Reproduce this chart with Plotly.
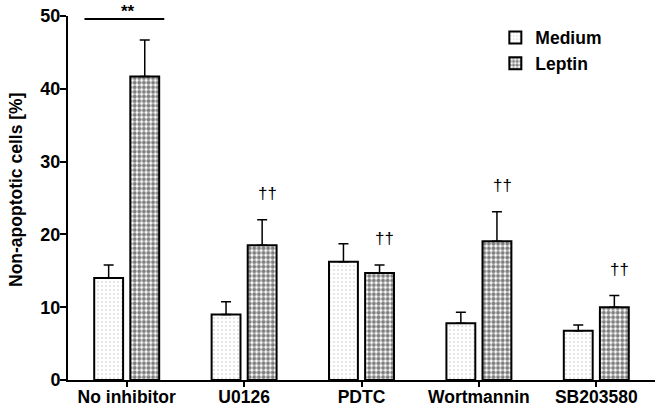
import plotly.graph_objects as go

categories = ["No inhibitor", "U0126", "PDTC", "Wortmannin", "SB203580"]
medium = [14.0, 9.0, 16.25, 7.8, 6.75]
medium_err = [1.8, 1.75, 2.45, 1.5, 0.8]
leptin = [41.7, 18.5, 14.7, 19.05, 10.0]
leptin_err = [5.0, 3.5, 1.1, 4.05, 1.6]
dagger_flags = [False, True, True, True, True]
y_ticks = [0, 10, 20, 30, 40, 50]
y_title = "Non-apoptotic cells [%]"

FONT = "Liberation Sans, Arial, sans-serif"
idx = list(range(len(categories)))

fig = go.Figure()
fig.add_trace(go.Bar(
    name="Medium", x=idx, y=medium,
    marker=dict(color="white", line=dict(color="black", width=2),
                pattern=dict(shape=".", fgcolor="#808080", bgcolor="white", size=4, solidity=0.12)),
    error_y=dict(type="data", array=medium_err, arrayminus=[0]*5, symmetric=False,
                 color="black", thickness=1.5, width=5),
))
fig.add_trace(go.Bar(
    name="Leptin", x=idx, y=leptin,
    marker=dict(color="white", line=dict(color="black", width=2),
                pattern=dict(shape=".", fgcolor="black", bgcolor="white", size=4.6, solidity=0.6)),
    error_y=dict(type="data", array=leptin_err, arrayminus=[0]*5, symmetric=False,
                 color="black", thickness=1.5, width=5),
))

# significance bracket over the first group
fig.add_shape(type="line", xref="x", yref="y", x0=idx[0] - 0.36, x1=idx[0] + 0.32,
              y0=49.6, y1=49.6, line=dict(color="black", width=2))
fig.add_annotation(x=idx[0] + 0.01, y=49.6, text="**", showarrow=False, yanchor="bottom",
                   font=dict(family=FONT, size=17, color="black", weight="bold"), yshift=-4)

for i, flag in enumerate(dagger_flags):
    if flag:
        fig.add_annotation(x=i + 0.2, y=leptin[i] + leptin_err[i], text="††", showarrow=False,
                           yanchor="bottom", yshift=15,
                           font=dict(family=FONT, size=17, color="black"))

# y-axis title as rotated text
fig.add_annotation(xref="paper", yref="paper", x=0, y=0.522, xanchor="center", yanchor="middle",
                   xshift=-52, textangle=-90, text=y_title, showarrow=False,
                   font=dict(family=FONT, size=17.5, color="black", weight="bold"))

fig.update_layout(
    width=662, height=409,
    margin=dict(l=68, r=7, t=16, b=29, autoexpand=False),
    paper_bgcolor="white", plot_bgcolor="white",
    barmode="group", bargap=0.385, bargroupgap=0.2,
    font=dict(family=FONT, color="black"),
    legend=dict(x=0.728, y=0.99, xanchor="left", yanchor="top",
                font=dict(family=FONT, size=17.5, color="black", weight="bold"),
                bgcolor="rgba(0,0,0,0)", itemwidth=30, tracegroupgap=0),
    showlegend=True,
)
fig.update_xaxes(
    range=[-0.5, 4.5], tickvals=idx, ticktext=categories, automargin=False,
    showline=True, linecolor="black", linewidth=2,
    ticks="outside", ticklen=5, tickwidth=2, tickcolor="black",
    ticklabelstandoff=-5,
    tickfont=dict(family=FONT, size=17.5, color="black", weight="bold"),
    showgrid=False, zeroline=False,
)
fig.update_yaxes(
    range=[0, 50], tickvals=y_ticks, automargin=False,
    showline=True, linecolor="black", linewidth=2,
    ticks="outside", ticklen=6, tickwidth=2, tickcolor="black",
    ticklabelstandoff=-4,
    tickfont=dict(family=FONT, size=18, color="black", weight="bold"),
    showgrid=False, zeroline=False,
)

fig.write_html("out.html", config={"displayModeBar": False},
               post_script="document.body.style.margin='0px';")
